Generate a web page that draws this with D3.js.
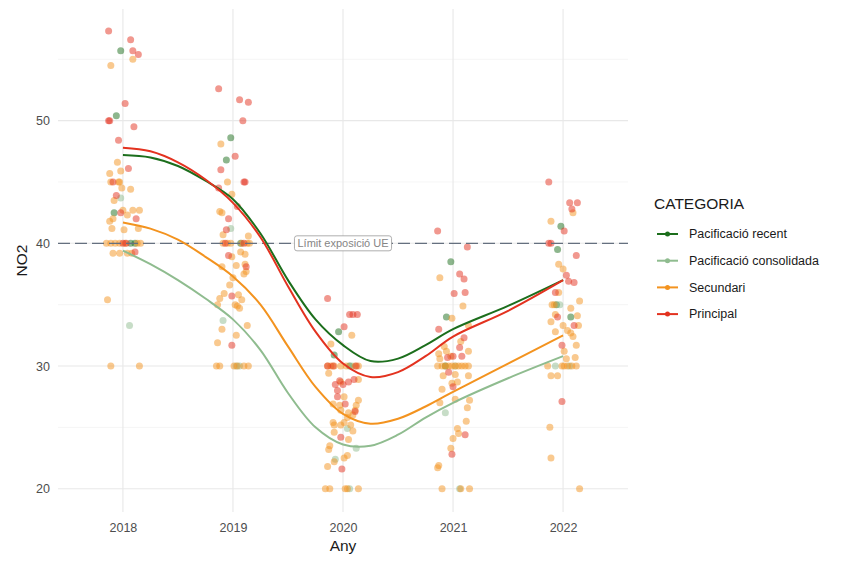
<!DOCTYPE html>
<html>
<head>
<meta charset="utf-8">
<script src="https://cdn.jsdelivr.net/npm/d3@7"></script>
<style>
body { margin: 0; background: #fff; }
text { font-family: "Liberation Sans", Arial, sans-serif; }
</style>
</head>
<body>
<div class="chart"></div>
<script>
var width = 843;
var height = 561;

// categories in legend order
var categories = ['Pacificació recent', 'Pacificació consolidada', 'Secundari', 'Principal'];
var colors = ['#1c6e1c', '#8fbc8f', '#f3931f', '#e3321f'];
var yearTicks = [2018, 2019, 2020, 2021, 2022];
var valueTicks = [20, 30, 40, 50];
var minorTicks = [25, 35, 45, 55];
var euLimit = 40;

// observations (jittered year, NO2)
var recentPoints = [
  [2017.98, 55.7], [2017.94, 50.4], [2017.92, 42.5], [2018.07, 40.0], [2018.11, 40.0],
  [2018.98, 48.6], [2018.94, 46.8], [2019.07, 40.0],
  [2019.96, 32.8], [2019.92, 30.9], [2020.06, 30.0],
  [2020.98, 38.5], [2020.94, 34.0], [2020.93, 30.0],
  [2021.98, 41.4], [2021.95, 39.5], [2022.07, 34.0], [2021.94, 35.0]
];
var consolidatedPoints = [
  [2017.98, 43.7], [2018.06, 33.3],
  [2018.98, 41.2], [2018.91, 33.7], [2019.06, 30.0], [2019.03, 30.0],
  [2020.04, 24.9], [2019.93, 22.4], [2020.12, 23.3], [2020.06, 20.0], [2020.08, 30.0],
  [2020.93, 26.2], [2021.06, 20.0], [2021.02, 30.0],
  [2021.93, 30.0], [2022.06, 30.0], [2021.97, 35.0]
];
var secondaryPoints = [
  [2017.89, 54.5], [2018.09, 55.0], [2017.95, 46.6], [2017.98, 45.9], [2017.88, 45.7], [2017.89, 45.0],
  [2017.96, 45.0], [2017.97, 45.0], [2018.07, 44.4], [2017.99, 44.5], [2017.92, 43.5], [2018.00, 42.7],
  [2018.09, 42.7], [2018.15, 42.7], [2018.04, 42.3], [2017.88, 41.8], [2017.91, 42.0], [2017.90, 41.2],
  [2018.01, 41.1], [2018.14, 41.2], [2017.85, 40.0], [2017.89, 40.0], [2017.93, 40.0], [2017.97, 40.0],
  [2018.02, 40.0], [2018.13, 40.0], [2018.16, 40.0], [2017.91, 39.2], [2017.97, 39.2], [2018.04, 39.2],
  [2018.08, 39.2], [2017.86, 35.4], [2017.89, 30.0], [2018.15, 30.0],
  [2018.89, 48.1], [2018.95, 45.0], [2018.99, 44.0], [2018.88, 42.6], [2018.90, 42.5], [2018.91, 40.7],
  [2019.14, 40.6], [2018.91, 40.0], [2018.95, 40.0], [2018.98, 40.0], [2019.08, 40.0], [2019.13, 40.0],
  [2019.15, 40.0], [2018.99, 38.9], [2019.07, 39.3], [2019.11, 39.1], [2019.11, 38.3], [2019.03, 38.2],
  [2018.90, 38.1], [2019.10, 37.5], [2019.12, 37.7], [2019.00, 37.2], [2018.97, 36.6], [2018.92, 35.9],
  [2019.05, 35.8], [2018.88, 35.5], [2018.86, 35.0], [2019.02, 35.0], [2019.04, 34.9], [2019.06, 34.7],
  [2019.08, 35.4], [2018.90, 33.0], [2019.13, 33.3], [2019.03, 32.5], [2018.86, 31.9], [2018.85, 30.0],
  [2018.88, 30.0], [2019.01, 30.0], [2019.04, 30.0], [2019.10, 30.0], [2019.14, 30.0],
  [2020.08, 32.5], [2019.89, 31.8], [2019.86, 30.0], [2019.89, 30.0], [2019.92, 30.0], [2019.98, 30.0],
  [2020.03, 30.0], [2020.11, 30.0], [2020.14, 30.0], [2019.87, 29.4], [2019.98, 28.7], [2020.14, 28.9],
  [2020.01, 27.5], [2019.91, 26.9], [2020.14, 27.2], [2020.12, 26.8], [2020.11, 26.4], [2020.09, 26.0],
  [2020.05, 26.2], [2019.98, 26.4], [2019.97, 26.8], [2019.91, 25.4], [2019.92, 25.2], [2019.98, 25.2],
  [2020.01, 25.4], [2020.07, 25.2], [2020.04, 25.8], [2020.09, 24.7], [2019.92, 24.6], [2020.05, 24.0],
  [2019.88, 23.5], [2019.87, 23.2], [2020.04, 22.7], [2020.01, 22.5], [2019.92, 22.2], [2019.86, 21.8],
  [2019.84, 20.0], [2019.88, 20.0], [2020.02, 20.0], [2020.04, 20.0], [2020.14, 20.0],
  [2020.88, 37.2], [2021.09, 34.9], [2020.99, 33.9], [2021.14, 33.3], [2021.07, 32.0], [2020.92, 31.6],
  [2020.94, 31.2], [2020.87, 31.0], [2020.88, 30.6], [2020.98, 30.8], [2021.14, 31.2], [2020.86, 30.0],
  [2020.90, 30.0], [2020.93, 30.0], [2020.96, 30.0], [2020.99, 30.0], [2021.02, 30.0], [2021.05, 30.0],
  [2021.08, 30.0], [2021.11, 30.0], [2021.14, 30.0], [2020.91, 29.2], [2021.02, 29.3], [2021.14, 29.2],
  [2021.04, 28.7], [2020.99, 28.6], [2020.90, 28.1], [2021.02, 27.3], [2021.15, 27.2], [2020.88, 27.0],
  [2021.13, 26.6], [2021.12, 25.5], [2021.04, 24.9], [2021.05, 24.5], [2021.00, 24.1], [2020.98, 23.3],
  [2020.86, 21.7], [2020.87, 21.9], [2020.90, 20.0], [2021.07, 20.0], [2021.15, 20.0],
  [2022.09, 42.5], [2021.89, 41.8], [2021.96, 38.3], [2022.00, 37.9], [2021.96, 36.0], [2022.15, 35.3],
  [2021.90, 35.0], [2021.92, 35.0], [2022.07, 34.7], [2022.13, 34.1], [2022.14, 33.3], [2021.89, 33.6],
  [2021.93, 34.2], [2022.00, 33.3], [2022.04, 32.9], [2022.07, 32.7], [2022.09, 32.4], [2021.93, 32.8],
  [2022.12, 31.7], [2022.01, 31.2], [2022.11, 30.7], [2022.03, 30.6], [2021.86, 30.0], [2021.99, 30.0],
  [2022.01, 30.0], [2022.04, 30.0], [2022.08, 30.0], [2022.12, 30.0], [2021.89, 29.2], [2021.95, 29.2],
  [2021.88, 25.0], [2021.89, 22.5], [2022.15, 20.0]
];
var mainPoints = [
  [2017.87, 57.3], [2018.07, 56.6], [2018.09, 55.7], [2018.14, 55.4], [2018.02, 51.4], [2017.88, 50.0],
  [2017.87, 50.0], [2018.10, 49.5], [2017.96, 48.4], [2018.05, 46.1], [2017.91, 45.0], [2017.94, 43.9],
  [2017.98, 42.5], [2018.12, 42.0], [2018.00, 40.0], [2018.03, 40.0], [2018.11, 39.3],
  [2018.87, 52.6], [2019.06, 51.7], [2019.14, 51.5], [2019.09, 50.0], [2019.02, 47.1], [2018.89, 46.0],
  [2019.10, 45.0], [2019.11, 45.0], [2018.87, 44.5], [2019.04, 43.0], [2018.96, 42.0], [2018.94, 41.1],
  [2018.93, 40.0], [2019.10, 40.0], [2018.96, 39.0], [2019.12, 38.1], [2018.99, 35.7], [2018.99, 31.7],
  [2019.86, 35.5], [2020.06, 34.2], [2020.09, 34.2], [2020.13, 34.2], [2020.01, 33.2], [2019.86, 30.0],
  [2019.91, 30.0], [2020.12, 30.0], [2019.93, 28.5], [2019.97, 28.8], [2019.95, 28.0], [2020.00, 28.5],
  [2020.05, 28.7], [2020.10, 28.9], [2019.95, 27.5], [2020.02, 26.9], [2020.11, 26.3], [2019.98, 24.2],
  [2019.99, 21.6],
  [2020.86, 41.0], [2021.13, 39.7], [2021.06, 37.5], [2021.10, 37.1], [2021.01, 35.9], [2021.11, 36.0],
  [2020.87, 33.0], [2021.10, 32.3], [2021.06, 31.5], [2021.08, 30.8], [2021.00, 30.8], [2020.95, 30.7],
  [2020.96, 29.5], [2021.00, 28.3], [2021.11, 24.4], [2020.99, 22.8],
  [2021.87, 45.0], [2022.06, 43.3], [2022.13, 43.3], [2022.08, 42.8], [2022.01, 41.0], [2021.87, 40.0],
  [2021.89, 40.0], [2022.12, 39.0], [2022.03, 37.4], [2022.05, 36.9], [2022.10, 36.8], [2021.93, 36.0],
  [2021.95, 34.0], [2022.10, 33.3], [2021.99, 31.7], [2021.99, 27.1]
];

// smoothed trend
var smoothYears = [2018, 2018.25, 2018.5, 2018.75, 2019, 2019.25, 2019.5, 2019.75, 2020, 2020.25, 2020.5, 2020.75, 2021, 2021.5, 2022];
var recentSmooth = [47.2, 47.0, 46.3, 45.1, 43.6, 40.8, 37.0, 33.8, 31.7, 30.4, 30.6, 31.7, 33.0, 34.9, 37.0];
var consolidatedSmooth = [39.4, 38.3, 37.0, 35.5, 33.8, 31.3, 27.8, 25.0, 23.6, 23.5, 24.4, 25.8, 27.0, 29.0, 30.8];
var secondarySmooth = [41.7, 41.2, 40.3, 38.9, 37.3, 35.0, 31.6, 28.3, 26.1, 25.3, 25.7, 26.7, 27.9, 30.2, 32.5];
var mainSmooth = [47.8, 47.5, 46.6, 45.2, 43.3, 40.5, 36.5, 32.8, 30.2, 29.1, 29.5, 30.8, 32.4, 34.5, 37.0];

var pointSets = [recentPoints, consolidatedPoints, secondaryPoints, mainPoints];
var smoothSets = [recentSmooth, consolidatedSmooth, secondarySmooth, mainSmooth];

var panelLeft = 58, panelRight = 628, panelTop = 9, panelBottom = 512;

var x = d3.scaleLinear().domain([2017.41, 2022.59]).range([panelLeft, panelRight]);
var y = d3.scaleLinear().domain([18.1, 59.1]).range([panelBottom, panelTop]);

var svg = d3.select('.chart').append('svg').attr('width', width).attr('height', height);

// grid
svg.append('g').selectAll('line').data(minorTicks).enter().append('line')
  .attr('x1', panelLeft).attr('x2', panelRight)
  .attr('y1', function(d){ return y(d); }).attr('y2', function(d){ return y(d); })
  .attr('stroke', '#f3f3f3').attr('stroke-width', 0.8);
svg.append('g').selectAll('line').data(valueTicks).enter().append('line')
  .attr('x1', panelLeft).attr('x2', panelRight)
  .attr('y1', function(d){ return y(d); }).attr('y2', function(d){ return y(d); })
  .attr('stroke', '#e8e8e8').attr('stroke-width', 1.1);
svg.append('g').selectAll('line').data(yearTicks).enter().append('line')
  .attr('y1', panelTop).attr('y2', panelBottom)
  .attr('x1', function(d){ return x(d); }).attr('x2', function(d){ return x(d); })
  .attr('stroke', '#e8e8e8').attr('stroke-width', 1.1);

// axes (text only)
var xAxis = svg.append('g').attr('transform', 'translate(0,' + (panelBottom + 6) + ')')
  .call(d3.axisBottom(x).tickValues(yearTicks).tickFormat(d3.format('d')).tickSize(0));
var yAxis = svg.append('g').attr('transform', 'translate(' + (panelLeft - 5) + ',0)')
  .call(d3.axisLeft(y).tickValues(valueTicks).tickSize(0));
[xAxis, yAxis].forEach(function(a){
  a.select('.domain').remove();
  a.selectAll('text').attr('fill', '#4d4d4d').style('font-size', '12.5px')
    .style('font-family', '"Liberation Sans", Arial, sans-serif');
});
xAxis.selectAll('text').attr('dy', '0.9em');

svg.append('text').attr('x', (panelLeft + panelRight) / 2).attr('y', 551)
  .attr('text-anchor', 'middle').style('font-size', '15.5px').attr('fill', '#1a1a1a').text('Any');
svg.append('text').attr('transform', 'translate(27,' + ((panelTop + panelBottom) / 2) + ') rotate(-90)')
  .attr('text-anchor', 'middle').style('font-size', '15.5px').attr('fill', '#1a1a1a').text('NO2');

// points
pointSets.forEach(function(pts, i){
  svg.append('g').selectAll('circle').data(pts).enter().append('circle')
    .attr('cx', function(d){ return x(d[0]); })
    .attr('cy', function(d){ return y(d[1]); })
    .attr('r', 3.5)
    .attr('fill', colors[i])
    .attr('fill-opacity', 0.5);
});

// EU limit
svg.append('line')
  .attr('x1', panelLeft).attr('x2', panelRight).attr('y1', y(euLimit)).attr('y2', y(euLimit))
  .attr('stroke', '#65707f').attr('stroke-width', 1.3).attr('stroke-dasharray', '12,5');

// smooth lines
var line = d3.line()
  .x(function(d, i){ return x(smoothYears[i]); })
  .y(function(d){ return y(d); })
  .curve(d3.curveCatmullRom);
smoothSets.forEach(function(s, i){
  svg.append('path').datum(s)
    .attr('d', line)
    .attr('fill', 'none')
    .attr('stroke', colors[i])
    .attr('stroke-width', 2);
});

// label
var lab = svg.append('g').attr('transform', 'translate(' + x(2020) + ',' + y(euLimit) + ')');
var labText = lab.append('text').attr('text-anchor', 'middle').attr('dy', '0.35em')
  .style('font-size', '11px').attr('fill', '#858585').text('Límit exposició UE');
var bb = labText.node().getBBox();
lab.insert('rect', 'text')
  .attr('x', bb.x - 3).attr('y', -7.5).attr('width', bb.width + 6).attr('height', 15)
  .attr('rx', 2.5).attr('fill', '#fff').attr('stroke', '#9a9a9a').attr('stroke-width', 0.8);

// legend
var legend = svg.append('g').attr('transform', 'translate(654,0)');
legend.append('text').attr('x', 0).attr('y', 209).style('font-size', '15.5px').attr('fill', '#1a1a1a').text('CATEGORIA');
categories.forEach(function(c, i){
  var ly = 234 + i * 26.7;
  legend.append('line').attr('x1', 3).attr('x2', 24).attr('y1', ly).attr('y2', ly)
    .attr('stroke', colors[i]).attr('stroke-width', 2);
  legend.append('circle').attr('cx', 13.5).attr('cy', ly).attr('r', 2.5).attr('fill', colors[i]);
  legend.append('text').attr('x', 35).attr('y', ly).attr('dy', '0.35em')
    .style('font-size', '12.5px').attr('fill', '#1a1a1a').text(c);
});
</script>
</body>
</html>
